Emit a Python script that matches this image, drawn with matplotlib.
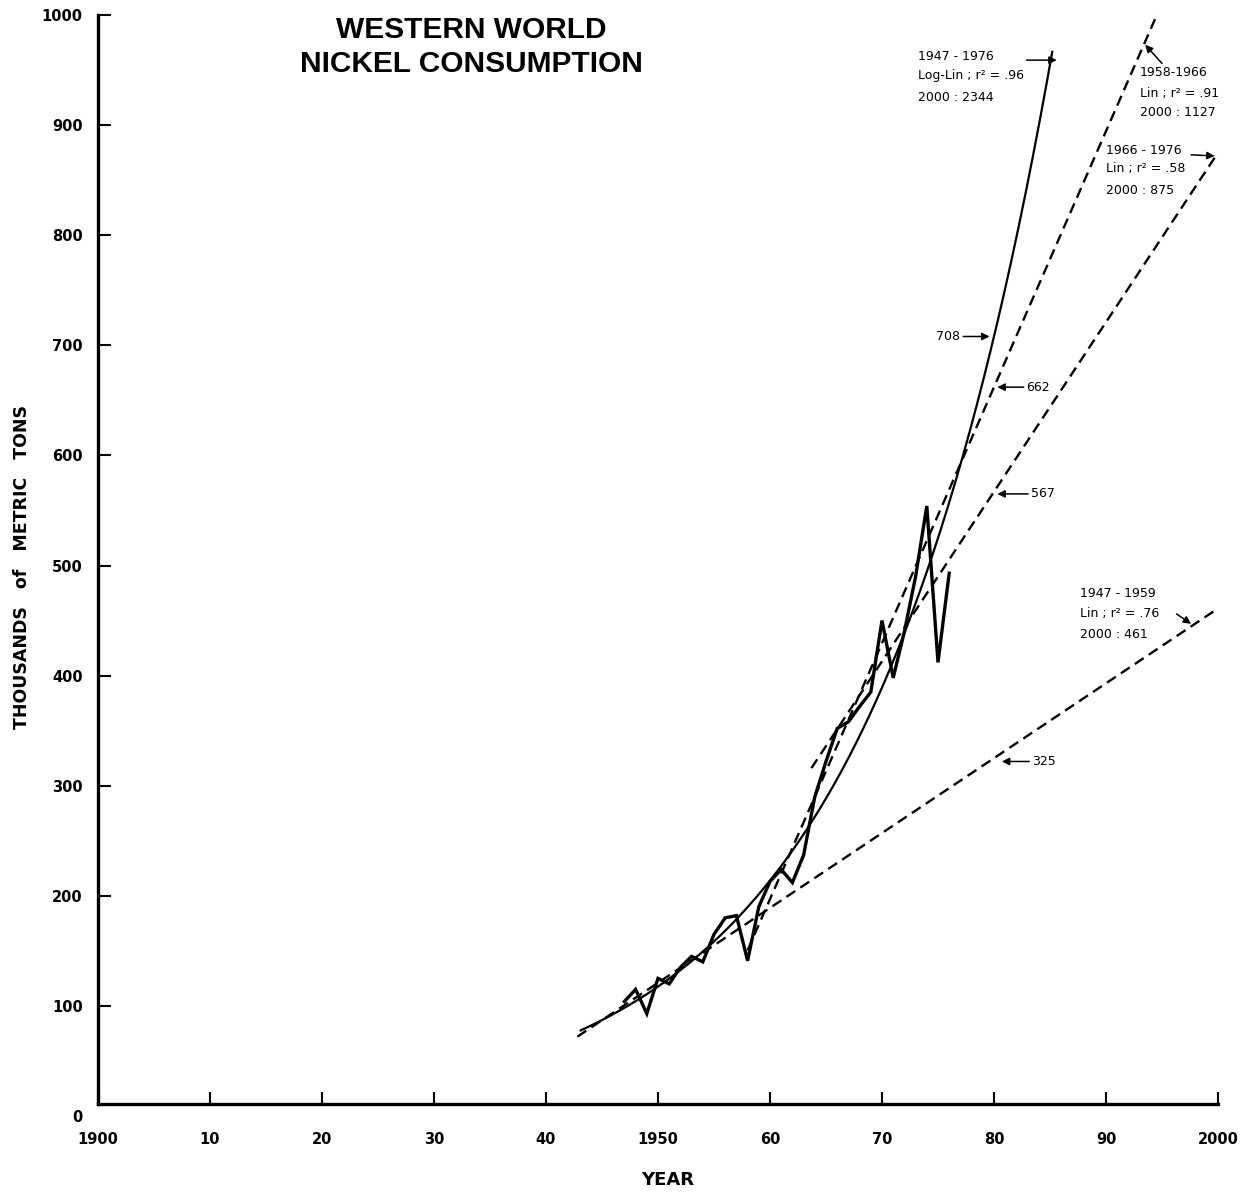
import matplotlib.pyplot as plt
import numpy as np

# annual consumption, thousands of metric tons
years = np.arange(1947, 1977)
consumption = [104, 115, 93, 125, 120, 135, 145, 140, 165, 180,
               182, 141, 190, 213, 224, 212, 237, 290, 322, 352,
               358, 372, 385, 450, 398, 440, 490, 554, 412, 493]

# fitted trends: value printed for 1980 and for 2000
loglin_1980, loglin_2000 = 708, 2344
lin_periods = ['1947 - 1959', '1958 - 1966', '1966 - 1976']
lin_1980 = [325, 662, 567]
lin_2000 = [461, 1127, 875]
lin_start = [1942.8, 1958.0, 1963.7]
lin_end = [2000.0, 1994.6, 2000.0]
loglin_start, loglin_end = 1943.1, 1985.2

xticks = list(range(1900, 2001, 10))
xticklabels = ['1900', '10', '20', '30', '40', '1950', '60', '70', '80', '90', '2000']
yticks = list(range(0, 1001, 100))

plt.rcParams['font.family'] = ['DejaVu Sans']

fig = plt.figure(figsize=(12.52, 11.94), dpi=100)
ax = fig.add_axes([98 / 1252, 78 / 1194, 1120 / 1252, 1101 / 1194])
ax.set_xlim(1900, 2000)
ax.set_ylim(0, 1000)

# observed series
ax.plot(years, consumption, color='black', lw=2.4, solid_joinstyle='miter')

# log-linear fit 1947-1976
rate = np.log(loglin_2000 / loglin_1980) / 20
xs = np.linspace(loglin_start, loglin_end, 200)
ax.plot(xs, loglin_1980 * np.exp(rate * (xs - 1980)), color='black', lw=1.6)

# linear fits
for p, v80, v00, x0, x1 in zip(lin_periods, lin_1980, lin_2000, lin_start, lin_end):
    slope = (v00 - v80) / 20
    xs = np.array([x0, x1])
    ax.plot(xs, v80 + slope * (xs - 1980), color='black', lw=1.7,
            dashes=(4.5, 2.6), clip_on=False)

arrow = dict(arrowstyle='-|>', color='black', lw=1.1, mutation_scale=11,
             shrinkA=0, shrinkB=0)
fs = 9

# block labels
ax.text(1973.2, 962, '1947 - 1976', fontsize=fs, va='center')
ax.text(1973.2, 945, 'Log-Lin ; r² = .96', fontsize=fs, va='center')
ax.text(1973.2, 925, '2000 : 2344', fontsize=fs, va='center')
ax.annotate('', xy=(1985.6, 959), xytext=(1982.9, 959), arrowprops=arrow)

ax.text(1993.0, 948, '1958-1966', fontsize=fs, va='center')
ax.text(1993.0, 929, 'Lin ; r² = .91', fontsize=fs, va='center')
ax.text(1993.0, 911, '2000 : 1127', fontsize=fs, va='center')
ax.annotate('', xy=(1993.5, 973), xytext=(1995.0, 956), arrowprops=arrow,
            annotation_clip=False)

ax.text(1990.0, 877, '1966 - 1976', fontsize=fs, va='center')
ax.text(1990.0, 861, 'Lin ; r² = .58', fontsize=fs, va='center')
ax.text(1990.0, 841, '2000 : 875', fontsize=fs, va='center')
ax.annotate('', xy=(1999.7, 872), xytext=(1997.6, 873), arrowprops=arrow)

ax.text(1987.7, 475, '1947 - 1959', fontsize=fs, va='center')
ax.text(1987.7, 456, 'Lin ; r² = .76', fontsize=fs, va='center')
ax.text(1987.7, 437, '2000 : 461', fontsize=fs, va='center')
ax.annotate('', xy=(1997.6, 447), xytext=(1996.3, 456), arrowprops=arrow)

# 1980 values
ax.annotate('708', xy=(1979.6, 708), xytext=(1977.0, 708), fontsize=fs,
            ha='right', va='center', arrowprops=arrow)
ax.annotate('662', xy=(1980.3, 662), xytext=(1982.9, 662), fontsize=fs,
            ha='left', va='center', arrowprops=arrow)
ax.annotate('567', xy=(1980.3, 565), xytext=(1983.3, 565), fontsize=fs,
            ha='left', va='center', arrowprops=arrow)
ax.annotate('325', xy=(1980.7, 322), xytext=(1983.4, 322), fontsize=fs,
            ha='left', va='center', arrowprops=arrow)

# axes styling
for s in ['top', 'right']:
    ax.spines[s].set_visible(False)
ax.spines['left'].set_linewidth(2.4)
ax.spines['bottom'].set_linewidth(2.4)
ax.spines['bottom'].set_position(('data', 11))
ax.spines['left'].set_bounds(11, 1000)

ax.set_xticks(xticks)
ax.set_xticklabels(xticklabels)
ax.set_yticks(yticks)
ax.tick_params(direction='in', length=9, width=1.5, labelsize=10.5)
ax.tick_params(axis='y', pad=11)
ax.tick_params(axis='x', pad=20)
for lab in ax.get_xticklabels() + ax.get_yticklabels():
    lab.set_fontweight('bold')
ax.yaxis.get_major_ticks()[0].tick1line.set_visible(False)

fig.text(471 / 1252, 1 - 30 / 1194, 'WESTERN WORLD', family='Liberation Sans',
         fontsize=21.5, fontweight='bold', ha='center', va='center')
fig.text(471 / 1252, 1 - 64 / 1194, 'NICKEL CONSUMPTION', family='Liberation Sans',
         fontsize=21.5, fontweight='bold', ha='center', va='center')
fig.text(668 / 1252, 1 - 1180 / 1194, 'YEAR', fontsize=13, fontweight='bold',
         ha='center', va='center')
fig.text(22 / 1252, 1 - 567 / 1194, 'THOUSANDS   of   METRIC   TONS', fontsize=12.5,
         fontweight='bold', rotation=90, ha='center', va='center')

fig.savefig('out.png', dpi=100)
